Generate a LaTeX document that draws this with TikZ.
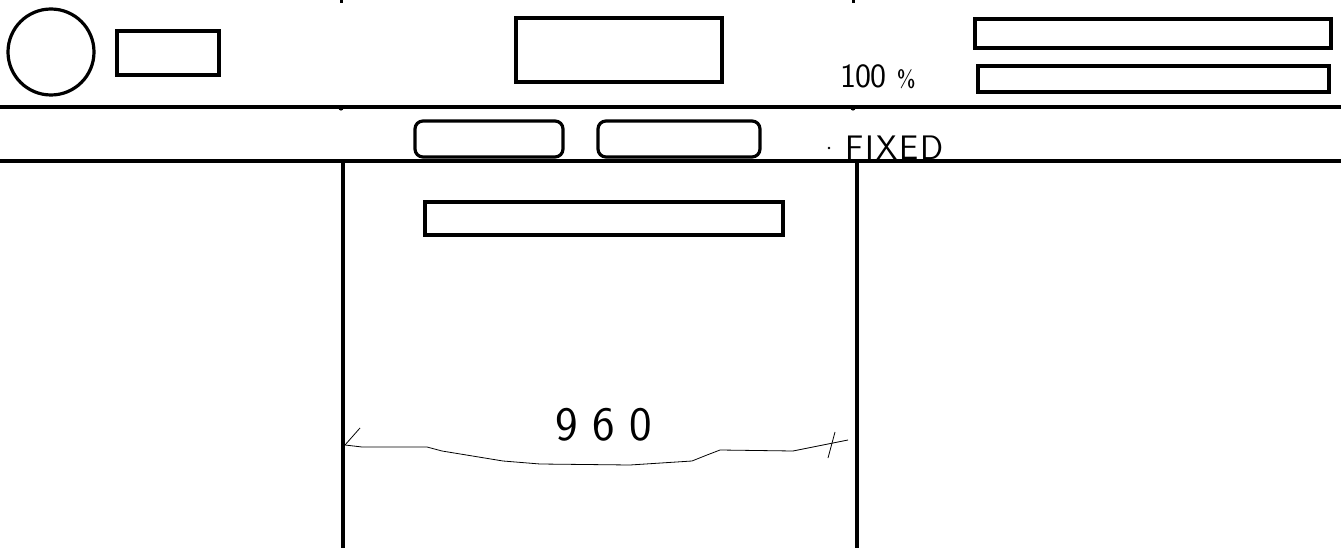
\documentclass[tikz,border=0pt]{standalone}
\usepackage{fontspec}
\setmainfont{DejaVu Sans}
\setsansfont{Latin Modern Sans}
\begin{document}
\begin{tikzpicture}[x=1pt,y=-1pt,
  thick box/.style={draw=black,line width=3.2pt},
  rule/.style={draw=black,line width=3.2pt},
  hand/.style={draw=black,line width=0.8pt},
  handtext/.style={inner sep=0pt}]
\useasboundingbox[fill=white] (0,0) rectangle (1341,548);
% header elements
\node[thick box,circle,minimum size=86pt,inner sep=0pt] (logo) at (51,52) {};
\node[thick box,minimum width=102pt,minimum height=44pt,inner sep=0pt] (brand) at (168,53) {};
\node[thick box,minimum width=206pt,minimum height=64pt,inner sep=0pt] (banner) at (619,50) {};
\node[thick box,minimum width=356pt,minimum height=29pt,inner sep=0pt] (barA) at (1153,33.5) {};
\node[thick box,minimum width=351pt,minimum height=26pt,inner sep=0pt] (barB) at (1153.5,79) {};
% horizontal rules
\coordinate (r1l) at (0,107); \coordinate (r1r) at (1341,107);
\coordinate (r2l) at (0,161); \coordinate (r2r) at (1341,161);
\draw[rule] (r1l) -- (r1r);
\draw[rule] (r2l) -- (r2r);
% tick marks
\fill (339.5,0) rectangle (343,3);
\fill (851.5,0) rectangle (855,3);
\fill (341,108) circle (2.6pt);
\fill (853,108) circle (2.6pt);
% nav buttons
\node[thick box,rounded corners=8pt,minimum width=148pt,minimum height=36pt,inner sep=0pt] (nav1) at (489,139) {};
\node[thick box,rounded corners=8pt,minimum width=162pt,minimum height=36pt,inner sep=0pt] (nav2) at (679,139) {};
% columns
\coordinate (c1t) at (343,161); \coordinate (c1b) at (343,548);
\coordinate (c2t) at (857,161); \coordinate (c2b) at (857,548);
\draw[rule] (c1t) -- (c1b);
\draw[rule] (c2t) -- (c2b);
\node[thick box,minimum width=358pt,minimum height=33pt,inner sep=0pt] (search) at (604,218.5) {};
% labels
\node[handtext,anchor=base west,font=\sffamily\fontsize{34}{36}\selectfont\addfontfeatures{LetterSpace=-2}] (pct) at (840,88) {100\hspace{10pt}{\fontsize{24}{26}\selectfont\%}};
\fill (829,148) circle (1.3pt);
\node[handtext,anchor=base west,font=\sffamily\fontsize{34}{36}\selectfont\addfontfeatures{LetterSpace=6}] (fixed) at (845,160) {FIXED};
\node[handtext,anchor=base,font=\sffamily\fontsize{48}{50}\selectfont\addfontfeatures{LetterSpace=30}] (w) at (604,440) {960};
% width measure
\coordinate (ml) at (345,445);
\coordinate (mr) at (823,445);
\draw[hand] (ml) -- (362,447) -- (427,447) -- (442,451) -- (503,461) -- (540,464) -- (630,465) -- (692,461) -- (707,455) -- (720,450) -- (793,451) -- (mr) -- (848,440);
\draw[hand] (ml) -- (360,428);
\draw[hand] (828,458) -- (835,432);
\end{tikzpicture}
\end{document}
